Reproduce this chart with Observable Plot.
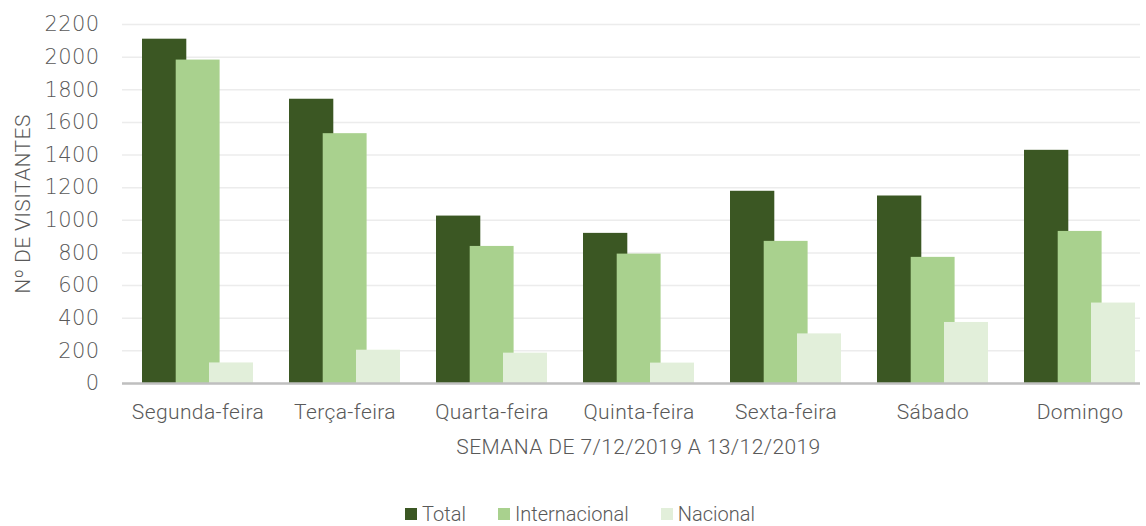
<!DOCTYPE html>
<html>
<head>
<meta charset="utf-8">
<script src="https://cdn.jsdelivr.net/npm/d3@7"></script>
<script src="https://cdn.jsdelivr.net/npm/@observablehq/plot@0.6"></script>
<style>
  html, body { margin: 0; padding: 0; background: #fff; overflow: hidden; }
  #chart svg { display: block; overflow: visible; }
  .legend { display: flex; justify-content: center; align-items: center; height: 24px; padding-left: 14px; margin-top: 1px;
    font-family: Roboto, "Open Sans", sans-serif; font-weight: 300; font-size: 20px; line-height: 24px; color: #595959; }
  .legend span.item { display: flex; align-items: center; margin: 0 16px; }
  .legend span.sw { width: 12px; height: 12px; display: inline-block; margin-right: 5px; }
  #chart svg text { letter-spacing: 0.4px; }
</style>
</head>
<body>
<div id="chart"></div>
<div class="legend" id="legend"></div>
<script>
const days = ["Segunda-feira", "Terça-feira", "Quarta-feira", "Quinta-feira", "Sexta-feira", "Sábado", "Domingo"];
const total = [2110, 1742, 1026, 920, 1178, 1149, 1429];
const internacional = [1982, 1531, 840, 793, 871, 773, 932];
const nacional = [126, 204, 186, 125, 304, 374, 493];
const seriesNames = ["Total", "Internacional", "Nacional"];
const seriesColors = ["#3b5723", "#a9d18e", "#e2efda"];
const yTicks = [0, 200, 400, 600, 800, 1000, 1200, 1400, 1600, 1800, 2000, 2200];
const xTitle = "SEMANA DE 7/12/2019 A 13/12/2019";
const yTitle = "Nº DE VISITANTES";

const seriesValues = [total, internacional, nacional];
const step = 147.7;
const insets = [[18, step - 63], [51.7, step - 96.3], [85, step - 129.7]];

const font = "Roboto, 'Open Sans', sans-serif";
const bars = seriesValues.map((vals, s) =>
  Plot.rectY(days, {
    x: d => d,
    y: (d, i) => vals[i],
    fill: seriesColors[s],
    insetLeft: insets[s][0],
    insetRight: insets[s][1]
  })
);

const plot = Plot.plot({
  width: 1146,
  height: 501,
  marginLeft: 122,
  marginRight: 6,
  marginTop: 24,
  marginBottom: 118,
  style: { fontFamily: font, fontWeight: 300, color: "#595959", background: "#fff" },
  x: { domain: days, range: [122, 122 + step * 7], padding: 0 },
  y: { domain: [0, 2200] },
  marks: [
    Plot.gridY(yTicks, { stroke: "#ececec", strokeOpacity: 1, strokeWidth: 1.5 }),
    ...bars,
    Plot.ruleY([0], { stroke: "#bfbfbf", strokeWidth: 2.5 }),
    Plot.axisY(yTicks, { tickSize: 0, tickPadding: 23, fontSize: 21, fill: "#595959", label: null, tickFormat: d3.format("d"),
      fontFamily: "'DejaVu Sans', Roboto, sans-serif", fontWeight: 200 }),
    Plot.axisX({ tickSize: 0, tickPadding: 21, fontSize: 21, fill: "#595959", label: null }),
    Plot.text([xTitle], { frameAnchor: "bottom", dy: 64, dx: 7, fontSize: 21, fill: "#595959", lineAnchor: "middle" }),
    Plot.text([yTitle], { frameAnchor: "left", rotate: -90, dx: -99, fontSize: 21, fill: "#595959", lineAnchor: "middle", textAnchor: "middle" })
  ]
});
document.getElementById("chart").appendChild(plot);

const legend = document.getElementById("legend");
seriesNames.forEach((name, i) => {
  const item = document.createElement("span");
  item.className = "item";
  const sw = document.createElement("span");
  sw.className = "sw";
  sw.style.background = seriesColors[i];
  item.appendChild(sw);
  item.appendChild(document.createTextNode(name));
  legend.appendChild(item);
});
</script>
</body>
</html>
